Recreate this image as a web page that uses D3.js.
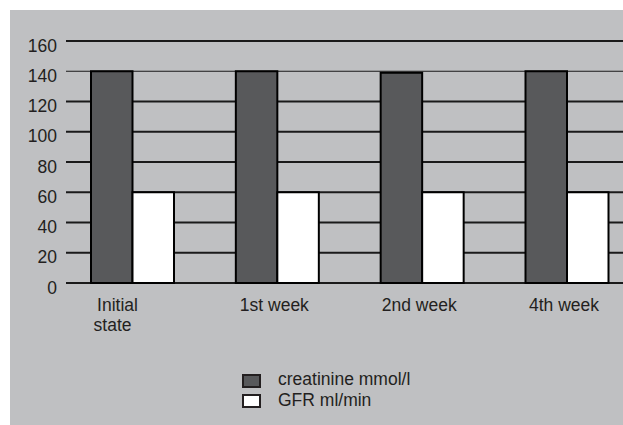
<!DOCTYPE html>
<html>
<head>
<meta charset="utf-8">
<script src="https://cdn.jsdelivr.net/npm/d3@7"></script>
<style>
  body { margin: 0; background: #fff; }
  svg { display: block; font-family: "Liberation Sans", Arial, sans-serif; }
</style>
</head>
<body>
<div id="chart"></div>
<script>
const categories = ["Initial state", "1st week", "2nd week", "4th week"];
const seriesNames = ["creatinine mmol/l", "GFR ml/min"];
const creatinine = [140, 140, 139, 140];
const gfr = [60, 60, 60, 60];
const yTicks = [0, 20, 40, 60, 80, 100, 120, 140, 160];
const colors = ["#58595b", "#ffffff"];

const W = 623, H = 425;
const FS = 17.5;
const svg = d3.select("#chart").append("svg").attr("width", W).attr("height", H);

// grey panel
svg.append("rect").attr("x", 10).attr("y", 10).attr("width", W - 10).attr("height", H - 10)
  .attr("fill", "#bfc0c2");

const y = d3.scaleLinear().domain([0, 160]).range([283, 41]);
const x = d3.scalePoint().domain(categories).range([132.5, 567]);
const sub = d3.scaleBand().domain(seriesNames).range([-41.5, 41.5]).padding(0);

// gridlines
svg.append("g").selectAll("line").data(yTicks).join("line")
  .attr("x1", 66).attr("x2", W)
  .attr("y1", d => y(d)).attr("y2", d => y(d))
  .attr("stroke", "#1a1a1a").attr("stroke-width", d => d === 140 ? 1.2 : 2);

// tick labels
svg.append("g").selectAll("text").data(yTicks).join("text")
  .attr("x", 57).attr("y", d => y(d) + 10.5)
  .attr("text-anchor", "end").attr("font-size", FS).attr("fill", "#231f20")
  .text(d => d);

// bars
const rows = categories.map((c, i) => ({ c, vals: [creatinine[i], gfr[i]] }));
const grp = svg.append("g").selectAll("g").data(rows).join("g")
  .attr("transform", d => `translate(${x(d.c)},0)`);
grp.selectAll("rect").data(d => d.vals.map((v, j) => ({ v, s: seriesNames[j], j }))).join("rect")
  .attr("x", d => sub(d.s)).attr("width", sub.bandwidth())
  .attr("y", d => y(d.v)).attr("height", d => y(0) - y(d.v))
  .attr("fill", d => colors[d.j]).attr("stroke", "#000").attr("stroke-width", 2);

// x labels
const xl = svg.append("g").selectAll("text").data(categories).join("text")
  .attr("font-size", FS).attr("fill", "#231f20").attr("text-anchor", "middle")
  .attr("transform", (d, i) => `translate(${i === 0 ? x(d) - 15 : x(d) - 3},311)`);
xl.each(function (d) {
  const words = d === "Initial state" ? ["Initial", "state"] : [d];
  words.forEach((w, k) => d3.select(this).append("tspan").attr("x", k ? -5 : 0).attr("dy", k ? 19.5 : 0).text(w));
});

// legend
const lg = svg.append("g").attr("transform", "translate(243,375)");
seriesNames.forEach((s, i) => {
  lg.append("rect").attr("x", 0).attr("y", i * 20).attr("width", 17).attr("height", 12)
    .attr("fill", colors[i]).attr("stroke", "#231f20").attr("stroke-width", 2);
  lg.append("text").attr("x", 35).attr("y", i * 21 + 9.5).attr("font-size", FS).attr("fill", "#231f20").text(s);
});
</script>
</body>
</html>
